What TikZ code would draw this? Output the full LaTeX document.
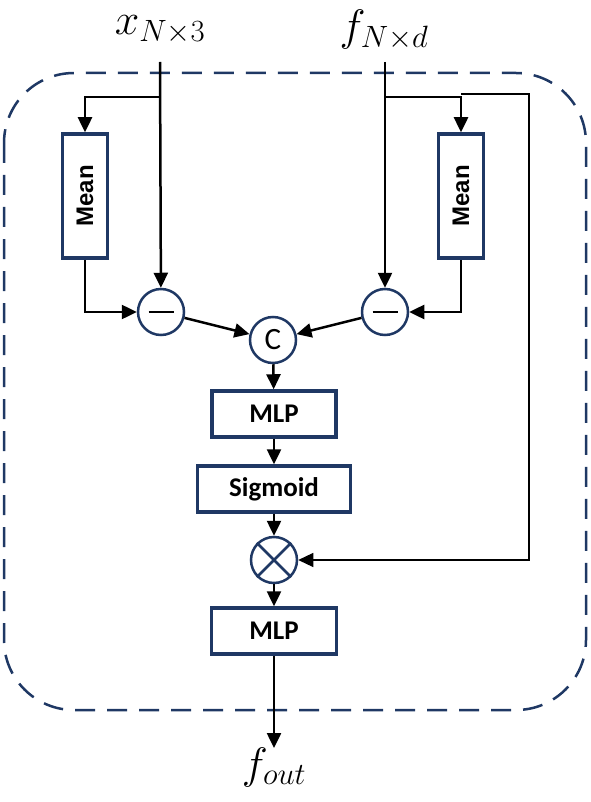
\RequirePackage{fix-cm}
\documentclass[tikz,border=0pt]{standalone}
\usepackage{fontspec}
\setsansfont{Carlito}
\newfontfamily\arialfont{Liberation Sans}
\usetikzlibrary{arrows.meta, positioning}
\definecolor{navy}{RGB}{31,56,100}
\tikzset{
    block/.style={
        rectangle, draw=navy, line width=3.5pt,
        minimum height=46pt, fill=white,
        font=\fontsize{27}{30}\selectfont\sffamily\bfseries
    },
    meanblock/.style={
        rectangle, draw=navy, line width=3.5pt, rotate=90,
        minimum width=124pt, minimum height=45pt, fill=white,
        font=\fontsize{24}{28}\selectfont\arialfont\bfseries
    },
    opcircle/.style={
        circle, draw=navy, line width=2.5pt,
        minimum size=46pt, inner sep=0pt, fill=white
    },
    wire/.style={draw=black, line width=2.5pt, -{Triangle[length=15pt,width=14pt]}},
    thinwire/.style={draw=black, line width=1.2pt, -{Triangle[length=15pt,width=14pt]}},
    frame/.style={draw=navy, line width=2.5pt, dash pattern=on 20pt off 12pt, rounded corners=70pt},
    iolabel/.style={font=\fontsize{44}{48}\selectfont}
}

\begin{document}
\begin{tikzpicture}[x=1pt, y=-1pt]
\useasboundingbox (0,0) rectangle (590,802);

% Dashed frame
\draw[frame] (4,73) rectangle (586,710);

% Inputs
\node[iolabel] (inx) at (160,30) {$x_{N\times 3}$};
\node[iolabel] (inf) at (384,30) {$f_{N\times d}$};
\coordinate (topx) at (160,62);
\coordinate (topf) at (385,62);
\coordinate (brx) at (160,97);
\coordinate (brf) at (385,97);

% Mean blocks
\node[meanblock] (meanx) at (85,196) {Mean};
\node[meanblock] (meanf) at (461,196) {Mean};

% Subtraction
\node[opcircle] (subx) at (161,312) {\rule{25pt}{2.4pt}};
\node[opcircle] (subf) at (385,312) {\rule{25pt}{2.4pt}};

\draw[wire] (topx) -- (subx);
\draw[wire] (topf) -- (subf);
\draw[wire] (brx) -| (meanx);
\draw[wire] (brf) -| (meanf);
\draw[wire] (meanx) |- (subx);
\draw[wire] (meanf) |- (subf);

% Concatenation
\node[opcircle, font=\fontsize{31}{33}\selectfont\sffamily] (cat) at (273,340) {C};
\draw[wire] (subx) -- (cat);
\draw[wire] (subf) -- (cat);

% Gate
\node[block, minimum width=124pt] (mlpa) at (274,414) {MLP};
\node[block, minimum width=153pt] (sig) at (274,489) {Sigmoid};
\node[opcircle] (mul) at (274,560) {};
\draw[navy, line width=2.5pt] (mul.north east) -- (mul.south west);
\draw[navy, line width=2.5pt] (mul.north west) -- (mul.south east);

\draw[wire] (cat) -- (mlpa);
\draw[wire] (mlpa) -- (sig);
\draw[wire] (sig) -- (mul);

% Skip connection
\coordinate (tap) at (461,94);
\coordinate (bend) at (529,94);
\draw[thinwire] (tap) -- (bend) |- (mul);

% Output
\node[block, minimum width=125pt] (mlpb) at (274,631) {MLP};
\coordinate (outend) at (274,748);
\node[iolabel, below=-4pt of outend] (fout) {$f_{out}$};

\draw[wire] (mul) -- (mlpb);
\draw[wire] (mlpb) -- (outend);

\end{tikzpicture}
\end{document}
